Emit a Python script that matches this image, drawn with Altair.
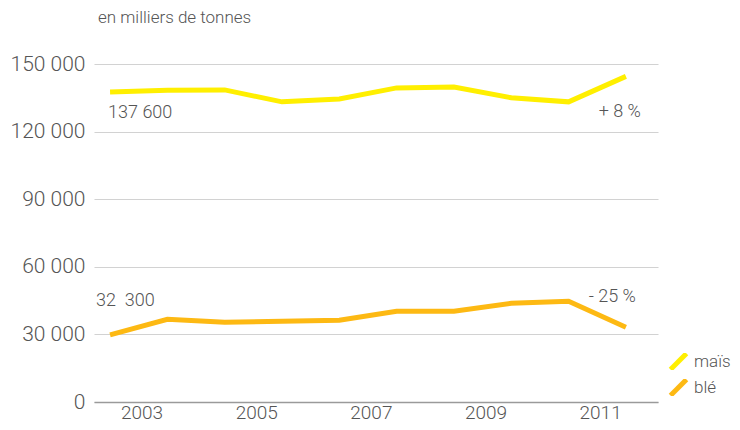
import altair as alt
import pandas as pd

# ---- data ----
annees = [2002, 2003, 2004, 2005, 2006, 2007, 2008, 2009, 2010, 2011]
mais = [137600, 138300, 138500, 133200, 134500, 139400, 139800, 135000, 133200, 144500]
ble = [29800, 36700, 35400, 35800, 36300, 40300, 40300, 43800, 44700, 33200]
series = ["maïs", "blé"]
couleurs = ["#FFEF00", "#FDB913"]
ticks_y = [0, 30000, 60000, 90000, 120000, 150000]
ticks_x = [2003, 2005, 2007, 2009, 2011]
etiq_debut = {"maïs": "137 600", "blé": "32\u00a0\u00a0300"}
etiq_fin = {"maïs": "+ 8 %", "blé": "- 25 %"}
titre = "en milliers de tonnes"

rows = []
for s, vals in zip(series, [mais, ble]):
    for i, (a, v) in enumerate(zip(annees, vals)):
        rows.append({
            "serie": s, "annee": a, "valeur": v,
            "debut": etiq_debut[s] if i == 0 else "",
            "fin": etiq_fin[s] if i == len(annees) - 1 else "",
        })
df = pd.DataFrame(rows)

FONT = "Roboto"
GREY = "#555555"

base = alt.Chart(df).transform_calculate(t="datum.annee + 0.45")

x_enc = alt.X("t:Q", scale=alt.Scale(domain=[2002.17, 2012.01], nice=False, zero=False),
              axis=alt.Axis(values=ticks_x, format="d", title=None, grid=False, ticks=False,
                            domain=True, domainColor="#9a9a9a", domainWidth=1.5,
                            labelFont=FONT, labelFontSize=19, labelFontWeight=300,
                            labelColor=GREY, labelPadding=1, labelFlush=False))
y_enc = alt.Y("valeur:Q", scale=alt.Scale(domain=[0, 150000], nice=False),
              axis=alt.Axis(values=ticks_y, title=None, grid=True, gridColor="#d2d2d2",
                            gridWidth=1.2, ticks=False, domain=False,
                            labelExpr="replace(format(datum.value, ','), ',', ' ')",
                            labelFont=FONT, labelFontSize=21, labelFontWeight=300,
                            labelColor=GREY, labelPadding=9))

lines = base.mark_line(strokeWidth=5, strokeCap="butt").encode(
    x=x_enc, y=y_enc,
    color=alt.Color("serie:N", sort=series,
                    scale=alt.Scale(domain=series, range=couleurs),
                    legend=alt.Legend(orient="none", legendX=574, legendY=289, title=None,
                                      padding=0, columns=1, clipHeight=17,
                                      symbolType="M-1,1L1,-1", symbolSize=256,
                                      symbolStrokeWidth=5, labelFont=FONT,
                                      labelFontSize=17, labelFontWeight=300,
                                      labelColor=GREY, rowPadding=8, labelOffset=5)),
    detail="serie:N",
)

def txt(field, serie, align, dx, dy):
    return base.transform_filter(
        (alt.datum[field] != "") & (alt.datum.serie == serie)
    ).mark_text(font=FONT, fontSize=18, fontWeight=300, color=GREY,
                align=align, baseline="middle", dx=dx, dy=dy).encode(
        x="t:Q", y="valeur:Q", text=f"{field}:N")

sous_titre = alt.Chart(pd.DataFrame({"titre": [titre]})).mark_text(
    font=FONT, fontSize=17, fontWeight=300, color=GREY, align="left", baseline="middle"
).encode(x=alt.value(4), y=alt.value(-46), text="titre:N")

chart = alt.layer(
    lines,
    txt("debut", "maïs", "left", -2, 21),
    txt("fin", "maïs", "right", 15, 36),
    txt("debut", "blé", "left", -14, -34),
    txt("fin", "blé", "right", 10, -30),
    sous_titre,
).properties(
    width=564, height=338,
    autosize=alt.AutoSizeParams(type="none"),
    padding={"left": 86, "top": 56, "right": 74, "bottom": 20},
).configure(background="white").configure_view(stroke=None)

chart.save("out.html", embed_options={"renderer": "svg", "actions": False})
